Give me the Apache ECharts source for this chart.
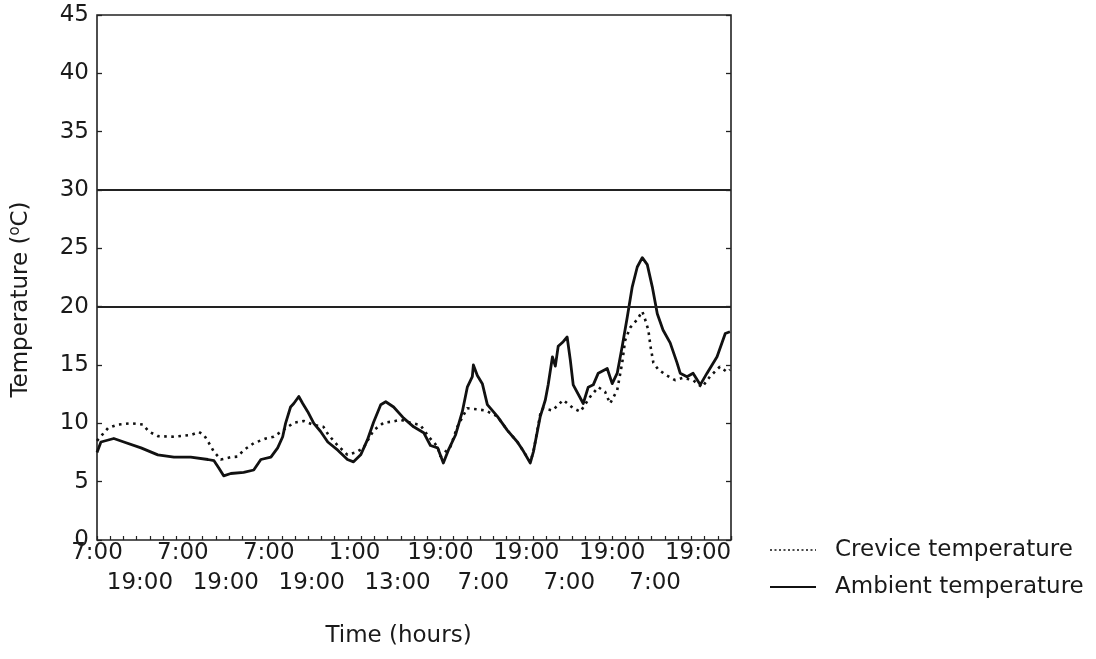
<!DOCTYPE html>
<html>
<head>
<meta charset="utf-8">
<script src="https://cdn.jsdelivr.net/npm/echarts@6/dist/echarts.min.js"></script>
<style>
html,body{margin:0;padding:0;background:#fff;}
#chart{width:1096px;height:659px;}
</style>
</head>
<body>
<div id="chart"></div>
<script>
// Tick labels on the time axis (one every 12 units, alternating rows)
const xTickLabels = ['7:00','19:00','7:00','19:00','7:00','19:00','1:00','13:00','19:00','7:00','19:00','7:00','19:00','7:00','19:00'];
const yTicks = [0,5,10,15,20,25,30,35,40,45];
const refLines = [20, 30];

// Ambient temperature (solid)
const ambientHours = [0,1.1,4.7,7.5,12.3,17.0,21.5,26.2,31.0,32.7,34.0,35.4,37.4,41.0,43.8,45.8,48.6,50.5,51.9,52.7,54.1,55.0,56.4,57.5,58.9,60.6,62.5,64.5,67.3,70.0,71.7,73.7,75.6,77.3,79.3,80.7,82.9,85.7,88.5,91.3,93.2,95.2,96.8,98.2,100.2,102.1,103.5,104.9,105.2,106.3,107.7,109.1,111.9,114.7,117.5,119.2,121.1,122.0,123.9,125.3,126.1,127.3,128.1,128.9,130.3,131.4,132.3,133.1,135.9,137.3,138.7,140.1,142.6,144.0,145.4,146.8,148.2,149.6,151.0,152.4,153.8,155.2,156.6,158.2,160.2,162.1,163.0,164.9,166.6,168.6,170.5,173.3,175.6,176.9];
const ambientTemp = [7.5,8.4,8.7,8.4,7.9,7.3,7.1,7.1,6.9,6.8,6.2,5.5,5.7,5.8,6.0,6.9,7.1,7.9,8.85,10.0,11.4,11.7,12.3,11.7,11.0,10.0,9.3,8.4,7.7,6.9,6.7,7.3,8.6,10.1,11.6,11.85,11.4,10.45,9.7,9.2,8.1,7.9,6.6,7.7,9.0,11.0,13.1,14.0,15.0,14.1,13.4,11.6,10.6,9.4,8.4,7.6,6.6,7.6,10.6,12.0,13.3,15.7,14.9,16.6,17.0,17.4,15.4,13.3,11.7,13.1,13.3,14.3,14.7,13.4,14.3,16.6,19.1,21.7,23.4,24.2,23.6,21.7,19.4,18.0,16.9,15.2,14.3,14.0,14.3,13.3,14.3,15.7,17.7,17.85];

// Crevice temperature (dotted)
const creviceHours = [0,3.1,5.9,9.5,12.8,14.5,17.0,21.5,26.2,28.5,29.9,31.3,32.7,34.6,37.4,39.3,41.0,43.8,47.2,49.4,55.0,57.8,60.6,63.3,64.7,67.3,70.0,72.3,74.5,77.3,80.1,82.6,84.8,87.6,90.4,92.7,95.2,96.0,98.8,100.7,103.5,106.3,108.6,111.9,114.7,117.5,119.2,121.1,122.0,123.9,124.7,127.3,130.3,133.1,135.1,137.9,140.1,142.0,143.4,145.4,146.8,147.6,149.0,151.0,152.4,153.2,154.1,154.7,155.5,156.9,159.3,161.6,163.8,166.6,169.1,171.3,174.1,176.1,176.9];
const creviceTemp = [8.5,9.6,9.9,10.0,9.9,9.3,8.9,8.85,9.0,9.25,9.0,8.3,7.55,6.9,7.1,7.15,7.7,8.3,8.7,8.85,10.05,10.2,9.85,9.7,9.0,8.1,7.3,7.5,7.9,9.4,10.05,10.15,10.3,10.05,9.85,8.85,8.0,7.15,8.0,9.7,11.3,11.2,11.1,10.6,9.4,8.4,7.6,6.7,7.6,10.8,11.3,11.1,12.0,11.3,11.0,12.3,13.1,12.7,11.7,12.85,15.2,17.1,18.2,18.9,19.6,18.9,18.0,16.6,15.2,14.6,14.1,13.7,13.9,13.7,13.1,14.0,14.85,14.4,14.6];

const X_MAX = 177.2;
const FONT = 'DejaVu Sans';
const INK = '#1a1a1a';

const ambientData = ambientHours.map((h, i) => [h, ambientTemp[i]]);
const creviceData = creviceHours.map((h, i) => [h, creviceTemp[i]]);

function rowLabel(row) {
  return function (v) {
    const k = Math.round(v / 12);
    if (Math.abs(k * 12 - v) > 1e-6 || k >= xTickLabels.length) return '';
    return (k % 2 === row) ? xTickLabels[k] : '';
  };
}
const labelAxisBase = {
  type: 'value', min: 0, max: X_MAX, interval: 12, position: 'bottom',
  axisLine: {show: false, onZero: false}, axisTick: {show: false}, splitLine: {show: false}
};

const chart = echarts.init(document.getElementById('chart'), null, {renderer: 'canvas'});
chart.setOption({
  animation: false,
  backgroundColor: '#ffffff',
  textStyle: {fontFamily: FONT, color: INK},
  grid: {left: 96, right: 365, top: 15, bottom: 119, show: true, borderColor: '#222', borderWidth: 1.6, backgroundColor: 'transparent'},
  legend: {
    orient: 'vertical',
    left: 764, top: 533,
    itemWidth: 46, itemHeight: 14, itemGap: 13,
    textStyle: {fontFamily: FONT, fontSize: 23, color: INK, lineHeight: 24, padding: [0, 0, 0, 14]},
    data: [
      {name: 'Crevice temperature', itemStyle: {opacity: 0}, lineStyle: {width: 1.6, type: [2, 2.5], color: '#111'}},
      {name: 'Ambient temperature', itemStyle: {opacity: 0}, lineStyle: {width: 2, color: '#111'}}
    ]
  },
  xAxis: [Object.assign({}, labelAxisBase, {
    name: 'Time (hours)', nameLocation: 'middle', nameGap: 85,
    nameTextStyle: {fontFamily: FONT, fontSize: 23, color: INK, padding: [0, 31, 0, 0]},
    axisLabel: {fontFamily: FONT, fontSize: 23, color: INK, margin: 2, hideOverlap: false,
      showMinLabel: true, showMaxLabel: true, formatter: rowLabel(0)}
  }), Object.assign({}, labelAxisBase, {
    axisLabel: {fontFamily: FONT, fontSize: 23, color: INK, margin: 32, hideOverlap: false,
      showMinLabel: true, showMaxLabel: true, formatter: rowLabel(1)}
  }), {
    type: 'value', min: 0, max: X_MAX, interval: X_MAX / 48, position: 'bottom',
    axisLine: {show: false, onZero: false}, axisLabel: {show: false}, splitLine: {show: false},
    axisTick: {show: true, inside: true, length: 4, lineStyle: {color: '#222', width: 1.2}}
  }],
  yAxis: [{
    type: 'value', min: 0, max: 45, interval: 5, position: 'left',
    name: '{n|Temperature (}{s|o}{n|C)}', nameLocation: 'middle', nameGap: 63, nameRotate: 90,
    nameTextStyle: {padding: [0, 44, 0, 0], rich: {
      n: {fontFamily: FONT, fontSize: 23, color: INK, lineHeight: 26},
      s: {fontFamily: FONT, fontSize: 15, color: INK, lineHeight: 26, verticalAlign: 'top', padding: [0, 0, 12, 0]}
    }},
    axisLine: {show: false, onZero: false}, splitLine: {show: false},
    axisTick: {show: true, inside: true, length: 5, lineStyle: {color: '#222', width: 1.3}},
    axisLabel: {fontFamily: FONT, fontSize: 23, color: INK, margin: 8,
      formatter: v => (yTicks.indexOf(v) >= 0 ? String(v) : '')}
  }, {
    type: 'value', min: 0, max: 45, interval: 5, position: 'right',
    axisLine: {show: false, onZero: false}, splitLine: {show: false}, axisLabel: {show: false},
    axisTick: {show: true, inside: true, length: 5, lineStyle: {color: '#222', width: 1.3}}
  }],
  series: [{
    name: 'Crevice temperature', type: 'line', data: creviceData,
    xAxisIndex: 0, yAxisIndex: 0,
    symbol: 'none', smooth: false,
    lineStyle: {color: '#111', width: 2.6, type: [2.6, 4.5], cap: 'butt'},
    itemStyle: {color: '#111'}, z: 3
  }, {
    name: 'Ambient temperature', type: 'line', data: ambientData,
    xAxisIndex: 0, yAxisIndex: 0,
    symbol: 'none', smooth: false,
    lineStyle: {color: '#111', width: 2.8, join: 'round'},
    itemStyle: {color: '#111'}, z: 4,
    markLine: {
      silent: true, symbol: ['none', 'none'], label: {show: false},
      lineStyle: {color: '#222', width: 1.8, type: 'solid'},
      data: refLines.map(v => ({yAxis: v}))
    }
  }]
});
</script>
</body>
</html>
